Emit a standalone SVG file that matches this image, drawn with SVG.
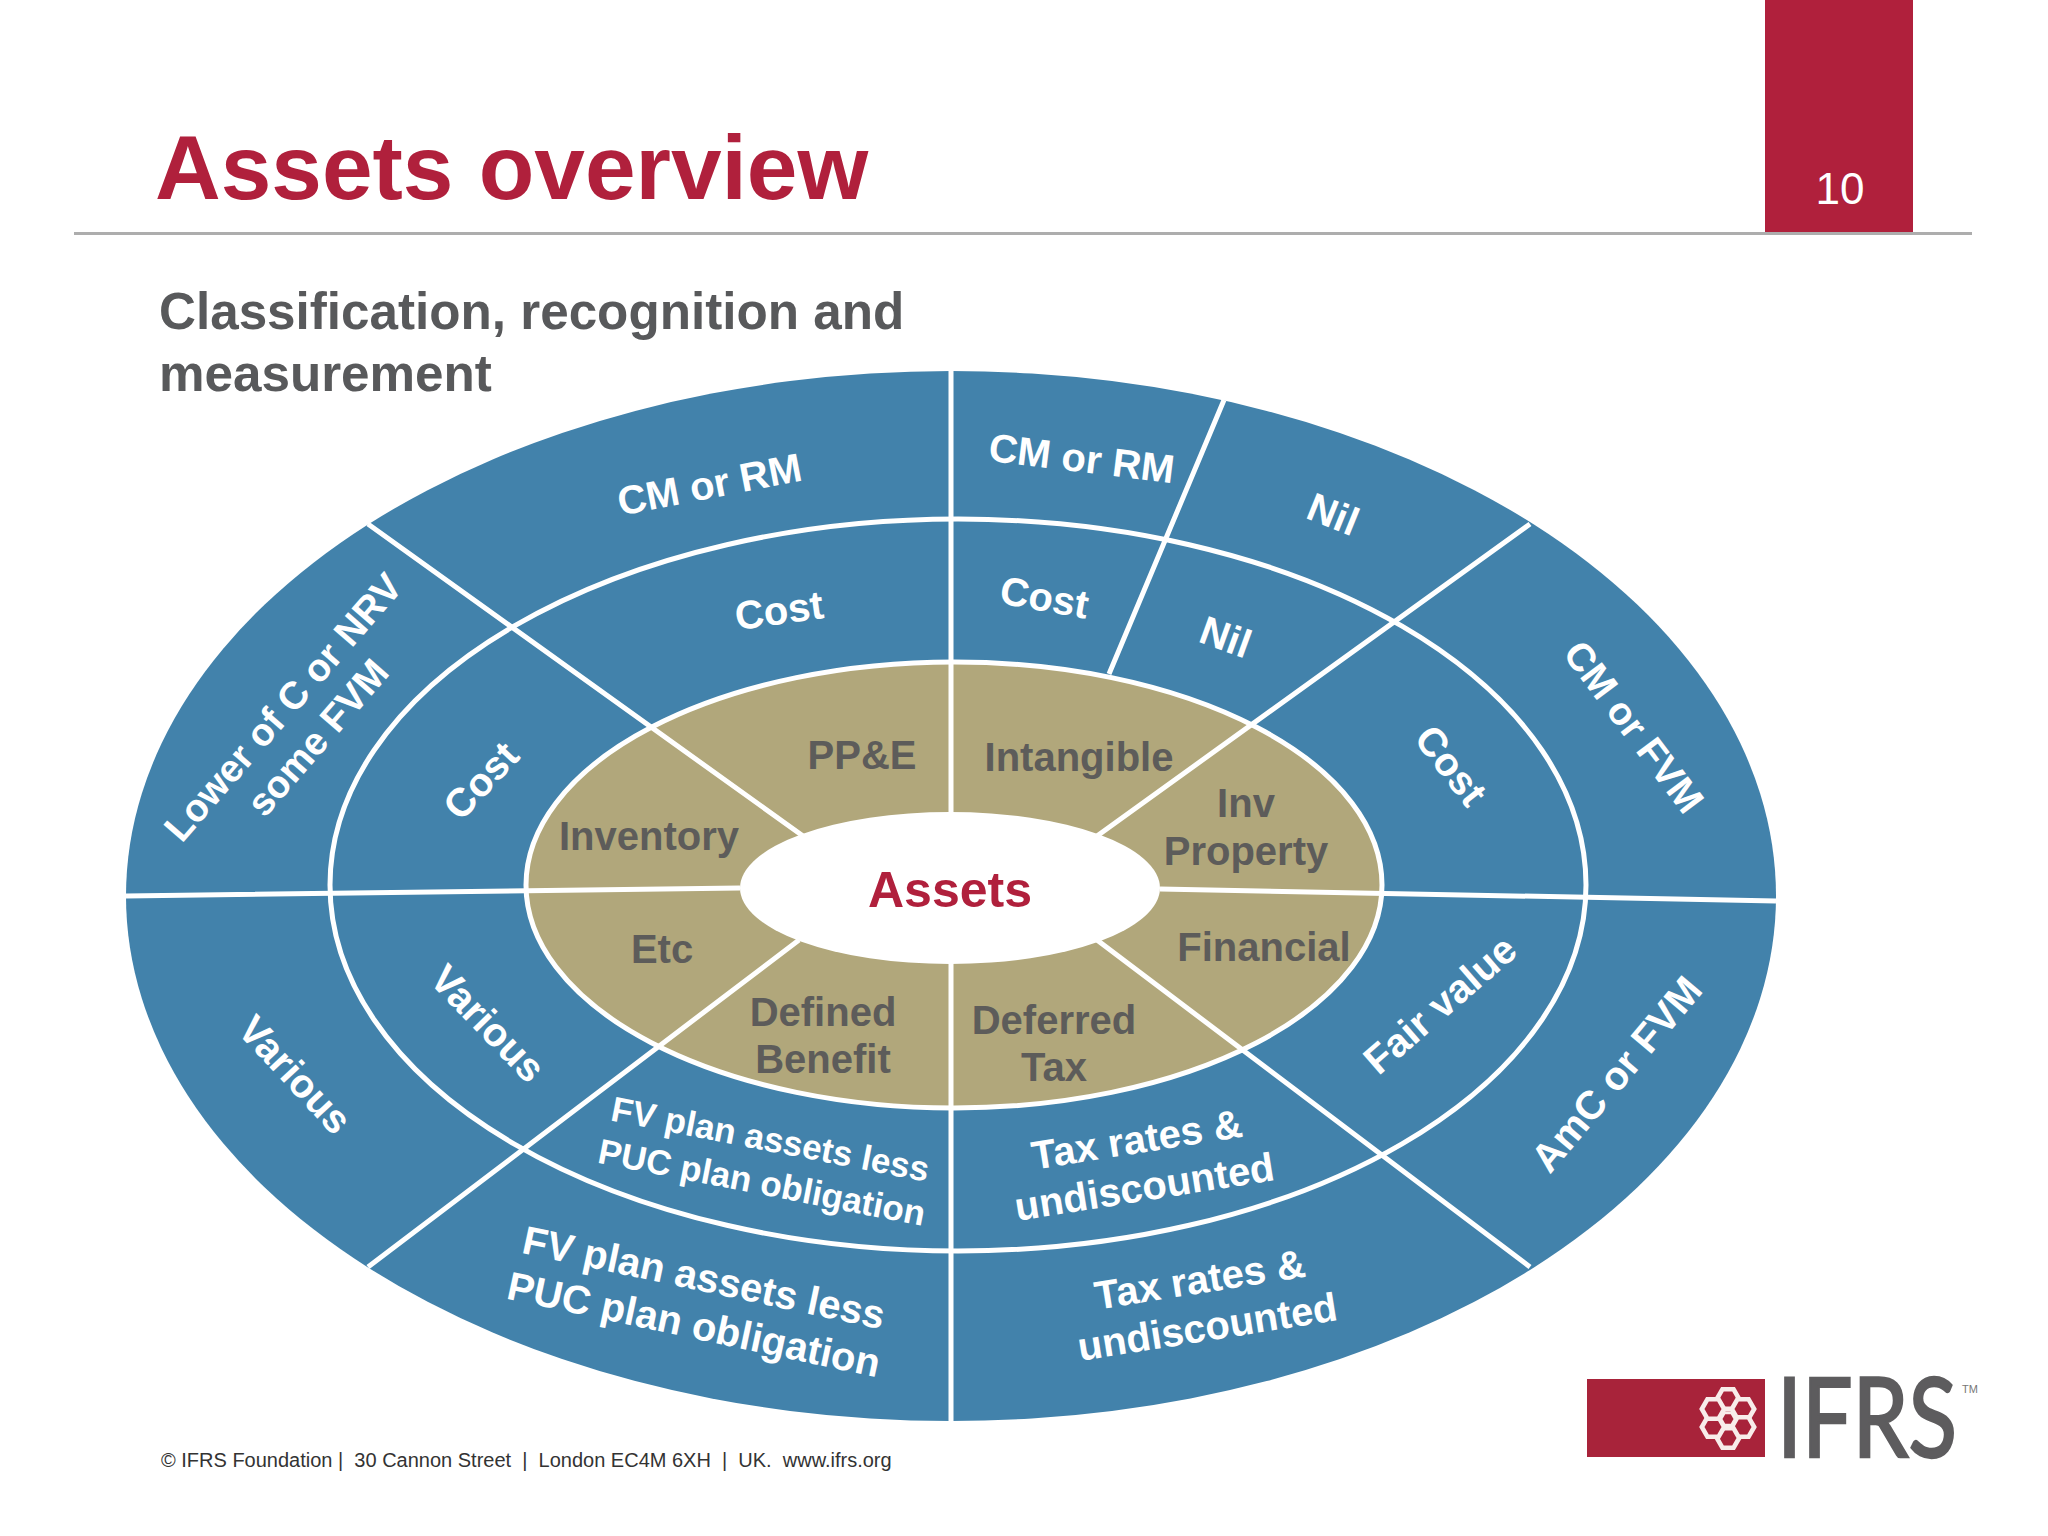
<svg xmlns="http://www.w3.org/2000/svg" width="2048" height="1536" viewBox="0 0 2048 1536">
<style>
text{font-family:"Liberation Sans",Arial,sans-serif}
.b{font-weight:700;text-anchor:middle}
.w{fill:#fff;font-size:40px}
.w2{fill:#fff;font-size:35px}
.g{fill:#5d5c5a;font-size:40px}
.ln{stroke:#fff;stroke-width:5;fill:none}
.hx{fill:#a8233a;stroke:#f8ecea;stroke-width:6.5}
</style>
<defs>
<polygon id="hex" points="16,0 8,13.9 -8,13.9 -16,0 -8,-13.9 8,-13.9"/>
</defs>
<rect width="2048" height="1536" fill="#fff"/>
<g id="header">
<rect x="1765" y="0" width="148" height="232" fill="#b0203c"/>
<text x="1840" y="204" font-size="44" fill="#fff" text-anchor="middle">10</text>
<rect x="74" y="232" width="1898" height="3" fill="#adadad"/>
<text x="155" y="199" font-size="91" font-weight="700" fill="#b0203c">Assets overview</text>
<text font-size="51.2" font-weight="700" fill="#58595b"><tspan x="159" y="329">Classification, recognition and</tspan><tspan x="159" y="391">measurement</tspan></text>
</g>
<g id="wheel">
<ellipse id="ring-outer" cx="951" cy="896" rx="825" ry="525" fill="#4282ab"/>
<ellipse id="ring-mid" cx="958" cy="885" rx="628" ry="366" class="ln" style="fill:#4282ab"/>
<ellipse id="ring-tan" cx="954" cy="885" rx="428" ry="223" class="ln" style="fill:#b1a77b"/>
</g>
<g id="connectors" class="ln">
<path d="M951 371V1421M126 896L740 888M1160 889L1776 901M368 524L803 836M1097 940L1530 1267M1530 524L1097 836M368 1267L799 940M1224 400L1109 674"/>
</g>
<g id="hub"><ellipse cx="950" cy="888" rx="210" ry="76" fill="#fff"/><text class="b" x="950" y="907" font-size="50" fill="#b0203c">Assets</text></g>
<g id="assets-classes" class="b">
<text class="b g" x="649" y="850">Inventory</text>
<text class="b g" x="862" y="769">PP&amp;E</text>
<text class="b g" x="1079" y="771">Intangible</text>
<text class="b g"><tspan x="1246" y="817">Inv</tspan><tspan x="1246" y="865">Property</tspan></text>
<text class="b g" x="662" y="963">Etc</text>
<text class="b g" x="1264" y="961">Financial</text>
<text class="b g"><tspan x="823" y="1026">Defined</tspan><tspan x="823" y="1073">Benefit</tspan></text>
<text class="b g"><tspan x="1054" y="1034">Deferred</tspan><tspan x="1054" y="1081">Tax</tspan></text>
</g>
<g id="recognition">
<text class="b w" transform="translate(781 624) rotate(-8)">Cost</text>
<text class="b w" transform="translate(1042 611) rotate(10)">Cost</text>
<text class="b w" transform="translate(1221 650) rotate(20)">Nil</text>
<text class="b w" transform="translate(491 790) rotate(-47)">Cost</text>
<text class="b w" transform="translate(1440 774) rotate(52)">Cost</text>
<text class="b w" transform="translate(478 1033) rotate(46)">Various</text>
<text class="b w" transform="translate(1449 1015) rotate(-41)">Fair value</text>
<text class="b w2" transform="translate(768 1151) rotate(11)"><tspan x="0" y="0">FV plan assets less</tspan><tspan x="0" y="44">PUC plan obligation</tspan></text>
<text class="b w" transform="translate(1139 1153) rotate(-9)"><tspan x="0" y="0">Tax rates &amp;</tspan><tspan x="0" y="48">undiscounted</tspan></text>
</g>
<g id="measurement">
<text class="b w" transform="translate(712 498) rotate(-11)">CM or RM</text>
<text class="b w" transform="translate(1080 472) rotate(7)">CM or RM</text>
<text class="b w" transform="translate(1328 527) rotate(22)">Nil</text>
<text class="b" transform="translate(293 716) rotate(-49)" style="fill:#fff;font-size:38.5px"><tspan x="0" y="0">Lower of C or NRV</tspan><tspan x="0" y="46">some FVM</tspan></text>
<text class="b" transform="translate(1623 735) rotate(53)" style="fill:#fff;font-size:39px">CM or FVM</text>
<text class="b w" transform="translate(285 1084) rotate(47)">Various</text>
<text class="b w" transform="translate(1627 1083) rotate(-50)">AmC or FVM</text>
<text class="b w" transform="translate(701 1291) rotate(12)"><tspan x="0" y="0">FV plan assets less</tspan><tspan x="0" y="48">PUC plan obligation</tspan></text>
<text class="b w" transform="translate(1202 1293) rotate(-9)"><tspan x="0" y="0">Tax rates &amp;</tspan><tspan x="0" y="48">undiscounted</tspan></text>
</g>
<g id="footer"><text x="161" y="1467" font-size="20" fill="#333" style="white-space:pre">© IFRS Foundation |  30 Cannon Street  |  London EC4M 6XH  |  UK.  www.ifrs.org</text></g>
<g id="logo">
<rect x="1587" y="1379" width="178" height="78" fill="#a8233a"/>
<g class="hx">
<use href="#hex" transform="translate(1728 1399) scale(.7)"/>
<use href="#hex" transform="translate(1743 1409) scale(.7)"/>
<use href="#hex" transform="translate(1743 1427) scale(.7)"/>
<use href="#hex" transform="translate(1728 1438) scale(.7)"/>
<use href="#hex" transform="translate(1713 1427) scale(.7)"/>
<use href="#hex" transform="translate(1713 1409) scale(.7)"/>
<use href="#hex" transform="translate(1728 1419) scale(.45)"/>
</g>
<text x="1777" y="1457" font-size="110" fill="#5d5c5e" stroke="#5d5c5e" stroke-width="2.5" textLength="180" lengthAdjust="spacingAndGlyphs" style="font-family:Lato,sans-serif">IFRS</text>
<text x="1962" y="1393" font-size="11" fill="#777">TM</text>
</g>
</svg>
